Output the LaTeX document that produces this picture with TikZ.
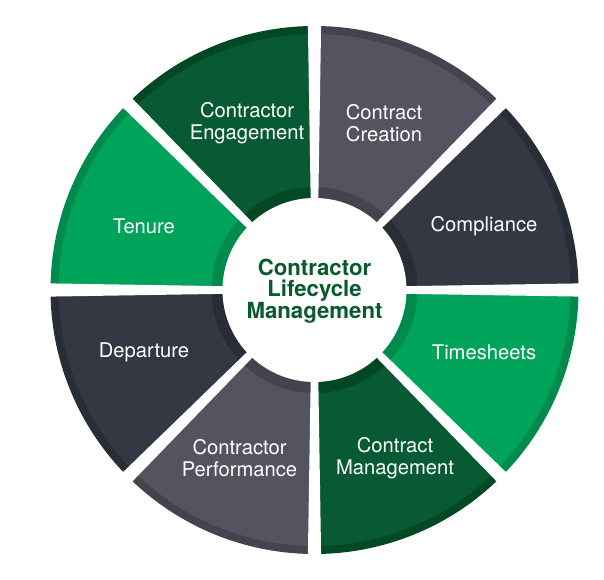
\documentclass[tikz,border=0pt]{standalone}
\usepackage{fontspec}
\setmainfont{TeX Gyre Heros}
\definecolor{bgreen}{HTML}{00A35A}
\definecolor{bgreenrim}{HTML}{008A4B}
\definecolor{dgreen}{HTML}{075A33}
\definecolor{dgreenrim}{HTML}{014823}
\definecolor{grayc}{HTML}{53545F}
\definecolor{grayrim}{HTML}{43444D}
\definecolor{slate}{HTML}{333842}
\definecolor{slaterim}{HTML}{292D35}
\definecolor{cgreen}{HTML}{0A5A30}
\newcommand\wheelsector[5]{%
  \fill[#3] (0,0) -- (#1:264) arc[start angle=#1,end angle=#2,radius=264] -- cycle;
  \fill[#4] (0,0) -- (#1:256) arc[start angle=#1,end angle=#2,radius=256] -- cycle;
  \fill[#5] (0,0) -- (#1:103) arc[start angle=#1,end angle=#2,radius=103] -- cycle;
}
\begin{document}
\begin{tikzpicture}[x=1pt,y=1pt,
  lbl/.style={text=white,font=\fontsize{20.2}{21.5}\selectfont,align=center,inner sep=0pt},
  ctr/.style={text=cgreen,font=\bfseries\fontsize{22.2}{21}\selectfont,align=center,inner sep=0pt}]
\useasboundingbox (0,0) rectangle (604,579);
\fill[white] (0,0) rectangle (604,579);
\begin{scope}[shift={(314.5,289)}]
  \wheelsector{0}{45}{slaterim}{slate}{slaterim}
  \wheelsector{45}{90}{grayrim}{grayc}{grayrim}
  \wheelsector{90}{135}{dgreenrim}{dgreen}{dgreenrim}
  \wheelsector{135}{180}{bgreenrim}{bgreen}{bgreenrim}
  \wheelsector{180}{225}{slaterim}{slate}{slaterim}
  \wheelsector{225}{270}{grayrim}{grayc}{grayrim}
  \wheelsector{270}{315}{dgreenrim}{dgreen}{dgreenrim}
  \wheelsector{315}{360}{bgreenrim}{bgreen}{bgreenrim}
  \foreach \a in {0,45,...,315}
    \fill[white,rotate=\a] (70,-3.5) -- (290,-7) -- (290,7) -- (70,3.5) -- cycle;
  \fill[white] (0,0) circle (92);
\end{scope}
\node[lbl] (engage) at (247,456) {Contractor\\Engagement};
\node[lbl] (create) at (384,456) {Contract\\Creation};
\node[lbl] (comply) at (484,353) {Compliance};
\node[lbl] (tenure) at (144,353) {Tenure};
\node[lbl] (depart) at (144,227) {Departure};
\node[lbl] (times) at (484,227) {Timesheets};
\node[lbl] (perf) at (239.5,121) {Contractor\\Performance};
\node[lbl] (manage) at (395,121) {Contract\\Management};
\node[ctr] (center) at (314.5,288) {Contractor\\Lifecycle\\Management};
\end{tikzpicture}
\end{document}
